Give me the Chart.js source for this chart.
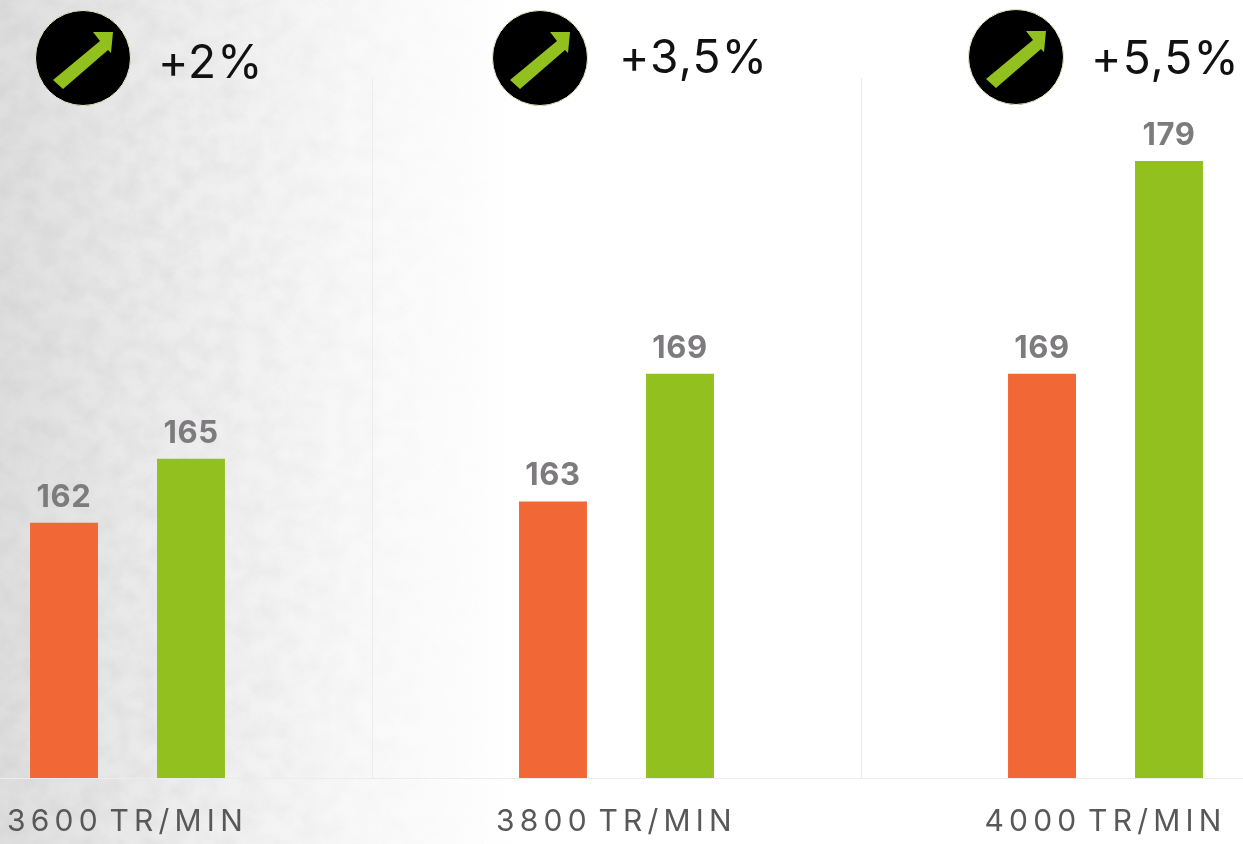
<!DOCTYPE html>
<html>
<head>
<meta charset="utf-8">
<title>TR/MIN</title>
<script src="https://cdn.jsdelivr.net/npm/chart.js@4"></script>
<style>
    html, body { margin:0; padding:0; width:1243px; height:844px; overflow:hidden; background:#fff; }
    #bg { position:absolute; left:0; top:0; width:1243px; height:844px; }
    #chart { position:absolute; left:-117px; top:0; }
    .badge { position:absolute; width:96px; height:96px; }
    .gain { position:absolute; font-family:Inter, sans-serif; font-size:46px; letter-spacing:1.2px; color:#111; line-height:50px; white-space:nowrap; }
</style>
</head>
<body>
<svg id="bg" width="1243" height="844">
    <defs>
        <filter id="grain" x="0" y="0" width="100%" height="100%">
            <feTurbulence type="fractalNoise" baseFrequency="0.05" numOctaves="6" seed="11"/>
            <feColorMatrix values="0 0 0 0 0.55  0 0 0 0 0.55  0 0 0 0 0.55  1.6 0 0 0 -0.5"/>
        </filter>
        <linearGradient id="fade" x1="0" x2="1" y1="0" y2="0">
            <stop offset="0" stop-color="#ddd"/>
            <stop offset="0.15" stop-color="#999"/>
            <stop offset="0.3" stop-color="#333"/>
            <stop offset="0.4" stop-color="#000"/>
        </linearGradient>
        <linearGradient id="base" x1="0" x2="1" y1="0" y2="0">
            <stop offset="0" stop-color="#dedede"/>
            <stop offset="0.12" stop-color="#ebebeb"/>
            <stop offset="0.28" stop-color="#f8f8f8"/>
            <stop offset="0.42" stop-color="#fff"/>
        </linearGradient>
        <mask id="fadeMask"><rect width="1243" height="844" fill="url(#fade)"/></mask>
    </defs>
    <rect width="1243" height="844" fill="url(#base)"/>
    <rect width="1243" height="844" filter="url(#grain)" mask="url(#fadeMask)" opacity="0.4"/>
</svg>
<canvas id="chart" width="1467" height="844"></canvas>
<div id="badges"></div>

<script>
const categories = ['3600 TR/MIN', '3800 TR/MIN', '4000 TR/MIN'];
const orangeValues = [162, 163, 169];
const greenValues = [165, 169, 179];
const gainLabels = ['+2%', '+3,5%', '+5,5%'];

const ORANGE = '#F26736';
const GREEN = '#92C11F';

// badges above each group (left of circle, top of circle, left of text, top of text)
const badgeSpots = [[35, 10, 158, 36], [492, 10, 619, 31], [968, 9, 1091, 32]];

const holder = document.getElementById('badges');
gainLabels.forEach((txt, i) => {
    const [bx, by, tx, ty] = badgeSpots[i];
    holder.innerHTML += `
    <svg class="badge" style="left:${bx}px; top:${by}px" viewBox="-48 -48 96 96">
        <circle r="47.5" fill="#000" stroke="#e6efc4" stroke-width="1"/>
        <polygon points="-30,22 17,-17 10,-26 30,-26 28,-5 25,-8 -20,31" fill="${GREEN}"/>
    </svg>
    <div class="gain" style="left:${tx}px; top:${ty}px">${txt}</div>`;
});

// numbers over the bars
const valueLabels = {
    id: 'valueLabels',
    beforeDraw(chart) {
        // only for the axis labels
        chart.ctx.letterSpacing = '5.2px';
        chart.ctx.wordSpacing = '-7px';
    },
    afterDatasetsDraw(chart) {
        const ctx = chart.ctx;
        ctx.save();
        ctx.letterSpacing = '0.6px';
        ctx.wordSpacing = '0px';
        ctx.font = '700 31px Inter, sans-serif';
        ctx.fillStyle = '#7d7b7d';
        ctx.textAlign = 'center';
        ctx.textBaseline = 'alphabetic';
        chart.data.datasets.forEach((ds, d) => {
            chart.getDatasetMeta(d).data.forEach((bar, i) => {
                ctx.fillText(ds.data[i], bar.x, bar.y - 16);
            });
        });
        ctx.restore();
    }
};

new Chart(document.getElementById('chart'), {
    type: 'bar',
    data: {
        labels: categories,
        datasets: [
            { data: orangeValues, backgroundColor: ORANGE, categoryPercentage: 0.5194, barPercentage: 0.535 },
            { data: greenValues, backgroundColor: GREEN, categoryPercentage: 0.5194, barPercentage: 0.535 }
        ]
    },
    options: {
        responsive: false,
        animation: false,
        layout: { padding: { top: 78 } },
        plugins: { legend: { display: false }, tooltip: { enabled: false } },
        scales: {
            y: { display: false, min: 150, max: 182.9 },
            x: {
                afterFit(scale) { scale.height = 66; },
                grid: { color: '#ececec', lineWidth: 1, drawTicks: false, offset: true },
                border: { color: '#ececec' },
                ticks: {
                    autoSkip: false,
                    maxRotation: 0,
                    padding: 26,
                    color: '#58585a',
                    font: { family: 'Inter, sans-serif', size: 30 }
                }
            }
        }
    },
    plugins: [valueLabels]
});
</script>
</body>
</html>
